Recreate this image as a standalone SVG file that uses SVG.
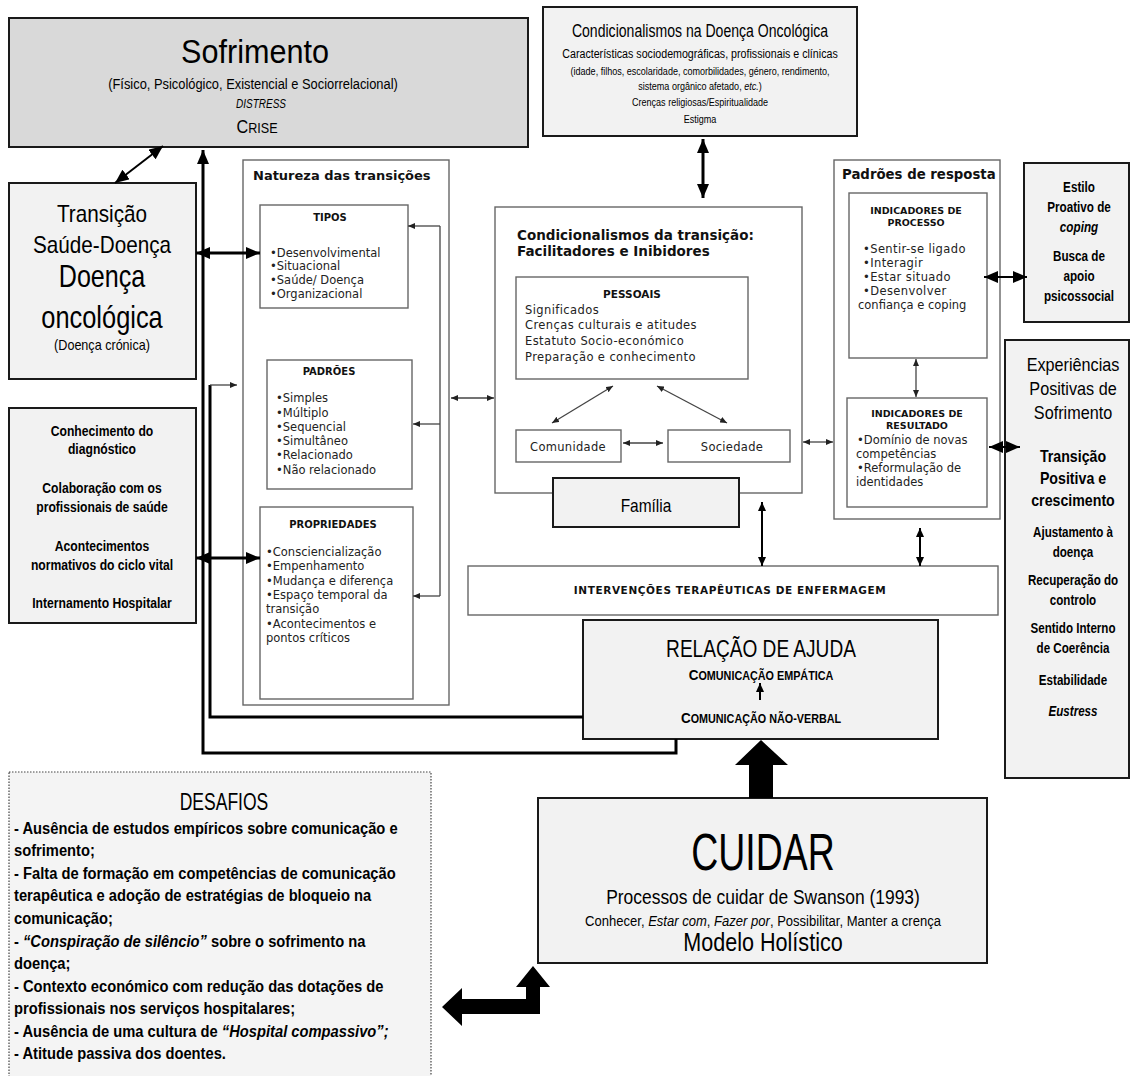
<svg xmlns="http://www.w3.org/2000/svg" width="1131" height="1076" viewBox="0 0 1131 1076">
  <style>
    .bg { fill: #ffffff; }
    .gbox { fill: #f2f2f2; stroke: #1a1a1a; stroke-width: 2; }
    .dbox { fill: #d9d9d9; stroke: #1a1a1a; stroke-width: 2; }
    .wbox { fill: #ffffff; stroke: #666666; stroke-width: 1.4; }
    .dot { fill: #f4f4f4; stroke: #444444; stroke-width: 1.2; stroke-dasharray: 1.5 1.5; }
    .n { font-family: "Liberation Sans", Arial, sans-serif; fill: #000; }
    .nb { font-family: "Liberation Sans", Arial, sans-serif; font-weight: bold; fill: #000; }
    .t { font-family: "DejaVu Sans", Verdana, sans-serif; fill: #222; font-size: 11.5px; }
    .tb { font-family: "DejaVu Sans", Verdana, sans-serif; font-weight: bold; fill: #111; }
    .c { text-anchor: middle; }
    .thick { fill: none; stroke: #000; stroke-width: 3; }
    .mid { fill: none; stroke: #000; stroke-width: 2; }
    .thin { fill: none; stroke: #444; stroke-width: 1.3; }
  </style>
  <defs>
    <marker id="hb" viewBox="0 0 14 12" refX="14" refY="6" markerWidth="14" markerHeight="12" markerUnits="userSpaceOnUse" orient="auto-start-reverse">
      <path d="M0,0 L14,6 L0,12 Z" fill="#000"/>
    </marker>
    <marker id="hm" viewBox="0 0 9 8" refX="9" refY="4" markerWidth="9" markerHeight="8" markerUnits="userSpaceOnUse" orient="auto-start-reverse">
      <path d="M0,0 L9,4 L0,8 Z" fill="#000"/>
    </marker>
    <marker id="hs" viewBox="0 0 7 6" refX="7" refY="3" markerWidth="7" markerHeight="6" markerUnits="userSpaceOnUse" orient="auto-start-reverse">
      <path d="M0,0 L7,3 L0,6 Z" fill="#222"/>
    </marker>
  </defs>

  <rect class="bg" x="0" y="0" width="1131" height="1076"/>

  <!-- Suffering -->
  <g id="sofrimento">
    <rect class="dbox" x="9" y="18" width="519" height="129"/>
    <text class="n c" transform="translate(255,63) scale(0.9,1)" font-size="34">Sofrimento</text>
    <text class="n c" transform="translate(253,89) scale(0.92,1)" font-size="14">(Físico, Psicológico, Existencial e Sociorrelacional)</text>
    <text class="n c" transform="translate(261,108) scale(0.8,1)" font-size="12.5" font-style="italic">DISTRESS</text>
    <text class="n c" transform="translate(257,133) scale(0.9,1)"><tspan font-size="18">C</tspan><tspan font-size="14">RISE</tspan></text>
  </g>

  <!-- Conditioning factors of the oncological disease -->
  <g id="condicionalismos-doenca">
    <rect class="gbox" x="543" y="7" width="314" height="129"/>
    <text class="n c" transform="translate(700,37) scale(0.76,1)" font-size="18.5">Condicionalismos na Doença Oncológica</text>
    <text class="n c" transform="translate(700,58) scale(0.79,1)" font-size="13.5">Características sociodemográficas, profissionais e clínicas</text>
    <text class="n c" transform="translate(700,75) scale(0.8,1)" font-size="11.3">(idade, filhos, escolaridade, comorbilidades, género, rendimento,</text>
    <text class="n c" transform="translate(700,90) scale(0.8,1)" font-size="11.3">sistema orgânico afetado, <tspan font-style="italic">etc.</tspan>)</text>
    <text class="n c" transform="translate(700,106) scale(0.8,1)" font-size="11.3">Crenças religiosas/Espiritualidade</text>
    <text class="n c" transform="translate(700,123) scale(0.8,1)" font-size="11.3">Estigma</text>
  </g>

  <!-- Health-illness transition -->
  <g id="transicao">
    <rect class="gbox" x="9" y="183" width="187" height="196"/>
    <text class="n c" transform="translate(102,222) scale(0.9,1)" font-size="23">Transição</text>
    <text class="n c" transform="translate(102,253) scale(0.9,1)" font-size="23">Saúde-Doença</text>
    <text class="n c" transform="translate(102,287) scale(0.81,1)" font-size="31">Doença</text>
    <text class="n c" transform="translate(102,328) scale(0.82,1)" font-size="31">oncológica</text>
    <text class="n c" transform="translate(102,350) scale(0.9,1)" font-size="14">(Doença crónica)</text>
  </g>

  <!-- Situational factors -->
  <g id="conhecimento">
    <rect class="gbox" x="9" y="408" width="187" height="215"/>
    <g class="nb c" font-size="15">
      <text transform="translate(102,436) scale(0.81,1)">Conhecimento do</text>
      <text transform="translate(102,454) scale(0.81,1)">diagnóstico</text>
      <text transform="translate(102,493) scale(0.81,1)">Colaboração com os</text>
      <text transform="translate(102,512) scale(0.81,1)">profissionais de saúde</text>
      <text transform="translate(102,551) scale(0.81,1)">Acontecimentos</text>
      <text transform="translate(102,570) scale(0.81,1)">normativos do ciclo vital</text>
      <text transform="translate(102,608) scale(0.81,1)">Internamento Hospitalar</text>
    </g>
  </g>

  <!-- Nature of transitions -->
  <g id="natureza">
    <rect class="wbox" x="243" y="160" width="206" height="545"/>
    <text class="tb" x="253" y="180" font-size="13">Natureza das transições</text>
  </g>
  <g id="tipos">
    <rect class="wbox" x="260" y="205" width="148" height="103"/>
    <text class="tb c" x="330" y="221" font-size="10">TIPOS</text>
    <text class="t" x="270" y="257">•Desenvolvimental</text>
    <text class="t" x="270" y="270">•Situacional</text>
    <text class="t" x="270" y="284">•Saúde/ Doença</text>
    <text class="t" x="270" y="298">•Organizacional</text>
  </g>
  <g id="padroes">
    <rect class="wbox" x="267" y="360" width="145" height="129"/>
    <text class="tb c" x="329" y="375" font-size="10">PADRÕES</text>
    <text class="t" x="276" y="402">•Simples</text>
    <text class="t" x="276" y="417">•Múltiplo</text>
    <text class="t" x="276" y="431">•Sequencial</text>
    <text class="t" x="276" y="445">•Simultâneo</text>
    <text class="t" x="276" y="459">•Relacionado</text>
    <text class="t" x="276" y="474">•Não relacionado</text>
  </g>
  <g id="propriedades">
    <rect class="wbox" x="260" y="507" width="153" height="192"/>
    <text class="tb c" x="333" y="528" font-size="10">PROPRIEDADES</text>
    <text class="t" x="266" y="556">•Consciencialização</text>
    <text class="t" x="266" y="570">•Empenhamento</text>
    <text class="t" x="266" y="585">•Mudança e diferença</text>
    <text class="t" x="266" y="599">•Espaço temporal da</text>
    <text class="t" x="266" y="613">transição</text>
    <text class="t" x="266" y="628">•Acontecimentos e</text>
    <text class="t" x="266" y="642">pontos críticos</text>
  </g>

  <!-- Transition conditions -->
  <g id="condicionalismos-transicao">
    <rect class="wbox" x="495" y="207" width="307" height="286"/>
    <text class="tb" x="517" y="240" font-size="13.5">Condicionalismos  da transição:</text>
    <text class="tb" x="517" y="256" font-size="13.5">Facilitadores e Inibidores</text>
  </g>
  <g id="pessoais">
    <rect class="wbox" x="516" y="277" width="232" height="102"/>
    <text class="tb c" x="632" y="298" font-size="10.5">PESSOAIS</text>
    <g class="t" font-size="12" letter-spacing="0.4">
      <text x="525" y="314">Significados</text>
      <text x="525" y="329">Crenças culturais e atitudes</text>
      <text x="525" y="345">Estatuto Socio-económico</text>
      <text x="525" y="361">Preparação e conhecimento</text>
    </g>
  </g>
  <g id="comunidade">
    <rect class="wbox" x="516" y="430" width="105" height="32"/>
    <text class="t c" x="568" y="451" font-size="12" letter-spacing="0.3">Comunidade</text>
  </g>
  <g id="sociedade">
    <rect class="wbox" x="668" y="430" width="122" height="32"/>
    <text class="t c" x="732" y="451" font-size="12" letter-spacing="0.3">Sociedade</text>
  </g>
  <g id="familia">
    <rect class="gbox" x="553" y="478" width="186" height="49"/>
    <text class="n c" transform="translate(646,512) scale(0.86,1)" font-size="18">Família</text>
  </g>

  <!-- Response patterns -->
  <g id="padroes-resposta">
    <rect class="wbox" x="834" y="160" width="166" height="359"/>
    <text class="tb" x="842" y="179" font-size="13.3">Padrões de resposta</text>
  </g>
  <g id="indicadores-processo">
    <rect class="wbox" x="849" y="193" width="138" height="165"/>
    <text class="tb c" x="916" y="214" font-size="9.5">INDICADORES DE</text>
    <text class="tb c" x="916" y="226" font-size="9.5">PROCESSO</text>
    <g class="t" letter-spacing="0.4">
      <text x="863" y="253">•Sentir-se ligado</text>
      <text x="863" y="267">•Interagir</text>
      <text x="863" y="281">•Estar situado</text>
      <text x="863" y="295">•Desenvolver</text>
    </g>
    <text class="t" x="858" y="309">confiança e coping</text>
  </g>
  <g id="indicadores-resultado">
    <rect class="wbox" x="847" y="398" width="140" height="109"/>
    <text class="tb c" x="917" y="417" font-size="9.5">INDICADORES DE</text>
    <text class="tb c" x="917" y="429" font-size="9.5">RESULTADO</text>
    <g class="t" font-size="11">
      <text x="857" y="444">•Domínio de novas</text>
      <text x="856" y="458">competências</text>
      <text x="857" y="472">•Reformulação de</text>
      <text x="856" y="486">identidades</text>
    </g>
  </g>

  <!-- Coping -->
  <g id="estilo">
    <rect class="gbox" x="1024" y="163" width="105" height="159"/>
    <g class="nb c" font-size="15">
      <text transform="translate(1079,192) scale(0.78,1)">Estilo</text>
      <text transform="translate(1079,212) scale(0.78,1)">Proativo de</text>
      <text transform="translate(1079,232) scale(0.78,1)" font-style="italic">coping</text>
      <text transform="translate(1079,261) scale(0.78,1)">Busca de</text>
      <text transform="translate(1079,281) scale(0.78,1)">apoio</text>
      <text transform="translate(1079,301) scale(0.78,1)">psicossocial</text>
    </g>
  </g>

  <!-- Positive experiences -->
  <g id="experiencias">
    <rect class="gbox" x="1005" y="340" width="124" height="438"/>
    <g class="n c" font-size="18">
      <text transform="translate(1073,371) scale(0.9,1)">Experiências</text>
      <text transform="translate(1073,395) scale(0.9,1)">Positivas de</text>
      <text transform="translate(1073,419) scale(0.9,1)">Sofrimento</text>
    </g>
    <g class="nb c" font-size="16.5">
      <text transform="translate(1073,462) scale(0.86,1)">Transição</text>
      <text transform="translate(1073,484) scale(0.86,1)">Positiva e</text>
      <text transform="translate(1073,506) scale(0.86,1)">crescimento</text>
    </g>
    <g class="nb c" font-size="14.5">
      <text transform="translate(1073,537) scale(0.8,1)">Ajustamento à</text>
      <text transform="translate(1073,557) scale(0.8,1)">doença</text>
      <text transform="translate(1073,585) scale(0.8,1)">Recuperação do</text>
      <text transform="translate(1073,605) scale(0.8,1)">controlo</text>
      <text transform="translate(1073,633) scale(0.8,1)">Sentido Interno</text>
      <text transform="translate(1073,653) scale(0.8,1)">de Coerência</text>
      <text transform="translate(1073,685) scale(0.8,1)">Estabilidade</text>
      <text transform="translate(1073,716) scale(0.8,1)" font-style="italic">Eustress</text>
    </g>
  </g>

  <!-- Nursing interventions -->
  <g id="intervencoes">
    <rect class="wbox" x="468" y="566" width="530" height="49"/>
    <text class="tb c" x="730" y="594" font-size="10.5" letter-spacing="0.6">INTERVENÇÕES TERAPÊUTICAS DE ENFERMAGEM</text>
  </g>

  <!-- Helping relationship -->
  <g id="relacao-ajuda">
    <rect class="gbox" x="583" y="620" width="355" height="119"/>
    <text class="n c" transform="translate(761,657) scale(0.83,1)" font-size="23">RELAÇÃO DE AJUDA</text>
    <text class="nb c" transform="translate(761,680) scale(0.9,1)"><tspan font-size="15">C</tspan><tspan font-size="12">OMUNICAÇÃO EMPÁTICA</tspan></text>
    <text class="nb c" transform="translate(761,723) scale(0.9,1)"><tspan font-size="15">C</tspan><tspan font-size="12">OMUNICAÇÃO NÃO-VERBAL</tspan></text>
  </g>

  <!-- Caring -->
  <g id="cuidar">
    <rect class="gbox" x="538" y="798" width="449" height="165"/>
    <text class="n c" transform="translate(763,870) scale(0.72,1)" font-size="52">CUIDAR</text>
    <text class="n c" transform="translate(763,904) scale(0.83,1)" font-size="21">Processos de cuidar de Swanson (1993)</text>
    <text class="n c" transform="translate(763,926) scale(0.87,1)" font-size="15">Conhecer, <tspan font-style="italic">Estar com</tspan>, <tspan font-style="italic">Fazer por</tspan>, Possibilitar, Manter a crença</text>
    <text class="n c" transform="translate(763,951) scale(0.83,1)" font-size="26">Modelo Holístico</text>
  </g>

  <!-- Challenges -->
  <g id="desafios">
    <rect class="dot" x="9" y="772" width="422" height="320"/>
    <text class="n c" transform="translate(224,810) scale(0.73,1)" font-size="24">DESAFIOS</text>
    <g class="nb" font-size="16">
      <text transform="translate(14,834) scale(0.92,1)">- Ausência de estudos empíricos sobre comunicação e</text>
      <text transform="translate(14,856) scale(0.92,1)">sofrimento;</text>
      <text transform="translate(14,879) scale(0.92,1)">- Falta de formação em competências de comunicação</text>
      <text transform="translate(14,901) scale(0.92,1)">terapêutica e adoção de estratégias de bloqueio na</text>
      <text transform="translate(14,924) scale(0.92,1)">comunicação;</text>
      <text transform="translate(14,947) scale(0.92,1)">- <tspan font-style="italic">“Conspiração de silêncio”</tspan> sobre o sofrimento na</text>
      <text transform="translate(14,969) scale(0.92,1)">doença;</text>
      <text transform="translate(14,992) scale(0.92,1)">- Contexto económico com redução das dotações de</text>
      <text transform="translate(14,1014) scale(0.92,1)">profissionais nos serviços hospitalares;</text>
      <text transform="translate(14,1037) scale(0.92,1)">- Ausência de uma cultura de <tspan font-style="italic">“Hospital compassivo”;</tspan></text>
      <text transform="translate(14,1059) scale(0.92,1)">- Atitude passiva dos doentes.</text>
    </g>
  </g>

  <!-- Connectors -->
  <g id="connectors">
    <line class="mid" x1="163" y1="146" x2="115" y2="183" marker-start="url(#hb)" marker-end="url(#hb)"/>
    <path class="thick" d="M676,739 V753 H203 V150" marker-end="url(#hb)"/>
    <path class="thick" d="M583,717 H210 V385"/>
    <path class="thin" d="M210,385 H237" marker-end="url(#hs)"/>
    <line class="thick" x1="196" y1="253" x2="260" y2="253" marker-start="url(#hb)" marker-end="url(#hb)"/>
    <line class="thick" x1="196" y1="558" x2="260" y2="558" marker-start="url(#hb)" marker-end="url(#hb)"/>
    <path class="thin" d="M440,226 V596"/>
    <path class="thin" d="M440,226 H408" marker-end="url(#hs)"/>
    <path class="thin" d="M440,424 H413" marker-end="url(#hs)"/>
    <path class="thin" d="M440,596 H413" marker-end="url(#hs)"/>
    <line class="thin" x1="451" y1="398" x2="494" y2="398" marker-start="url(#hs)" marker-end="url(#hs)"/>
    <line class="thick" x1="703" y1="139" x2="703" y2="198" marker-start="url(#hb)" marker-end="url(#hb)"/>
    <line class="thin" x1="613" y1="386" x2="552" y2="423" marker-start="url(#hs)" marker-end="url(#hs)"/>
    <line class="thin" x1="657" y1="386" x2="727" y2="423" marker-start="url(#hs)" marker-end="url(#hs)"/>
    <line class="thin" x1="623" y1="443" x2="663" y2="443" marker-start="url(#hs)" marker-end="url(#hs)"/>
    <line class="thin" x1="803" y1="442" x2="833" y2="442" marker-start="url(#hs)" marker-end="url(#hs)"/>
    <line class="thin" x1="916" y1="359" x2="916" y2="397" marker-start="url(#hs)" marker-end="url(#hs)"/>
    <line class="mid" x1="984" y1="277" x2="1027" y2="277" marker-start="url(#hb)" marker-end="url(#hb)"/>
    <line class="mid" x1="989" y1="447" x2="1020" y2="447" marker-start="url(#hb)" marker-end="url(#hb)"/>
    <line class="mid" x1="762" y1="502" x2="762" y2="566" marker-start="url(#hm)" marker-end="url(#hm)"/>
    <line class="mid" x1="920" y1="528" x2="920" y2="566" marker-start="url(#hm)" marker-end="url(#hm)"/>
    <line class="mid" x1="760" y1="700" x2="760" y2="683" marker-end="url(#hm)"/>
    <path d="M749,798 V765 H735 L761,740 L788,765 H773 V798 Z" fill="#000"/>
    <path d="M526,1014 V987 H516 L533,966 L550,987 H540 V1014 H462 V1026 L442,1007 L462,988 V999 H526 Z" fill="#000"/>
  </g>
</svg>
